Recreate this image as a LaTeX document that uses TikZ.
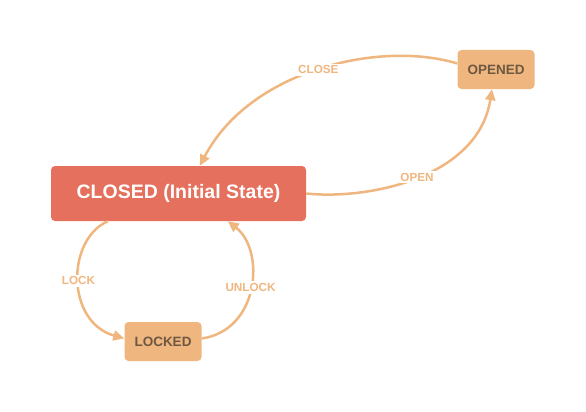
\documentclass[tikz,border=0pt]{standalone}
\usepackage{fontspec}
\setmainfont{Liberation Sans}
\usetikzlibrary{arrows.meta,calc}
\definecolor{closedred}{RGB}{229,112,93}
\definecolor{peach}{RGB}{240,182,127}
\definecolor{darkbrown}{RGB}{110,88,66}
\begin{document}
\begin{tikzpicture}[x=1pt,y=-1pt,
  mainstate/.style={rectangle,rounded corners=4pt,fill=closedred,text=white,
    font=\fontsize{19.5}{22}\selectfont\bfseries,minimum width=255pt,minimum height=55pt,inner sep=0pt},
  substate/.style={rectangle,rounded corners=4pt,fill=peach,text=darkbrown,
    font=\fontsize{13.5}{16}\selectfont\bfseries,minimum width=77pt,minimum height=39pt,inner sep=0pt},
  trans/.style={draw=peach,line width=2.5pt,-{Triangle[length=11pt,width=10pt]}},
  translabel/.style={fill=white,text=peach,font=\fontsize{11.7}{13}\selectfont\bfseries,inner sep=2pt}]
\useasboundingbox (0,0) rectangle (586,412);
\node[mainstate] (closed) at (178.5,193.5) {CLOSED (Initial State)};
\node[substate] (opened) at (496,69.5) {OPENED};
\node[substate] (locked) at (163,341.5) {LOCKED};
\draw[trans] ($(opened.west)+(0,-6)$) .. controls (380,40) and (250,70) .. ($(closed.north west)+(149,0)$)
  node[translabel,pos=0.5] {CLOSE};
\draw[trans] (closed.east) .. controls (368,200) and (478,178) .. ($(opened.south)+(-4,0)$)
  node[translabel,pos=0.5] {OPEN};
\draw[trans] ($(closed.south west)+(57,0)$) .. controls (66,240) and (66,322) .. ($(locked.west)+(0,-3)$)
  node[translabel,pos=0.5] {LOCK};
\draw[trans] ($(locked.east)+(0,-3)$) .. controls (260,330) and (265,250) .. ($(closed.south west)+(177,0)$)
  node[translabel,pos=0.5] {UNLOCK};
\end{tikzpicture}
\end{document}
